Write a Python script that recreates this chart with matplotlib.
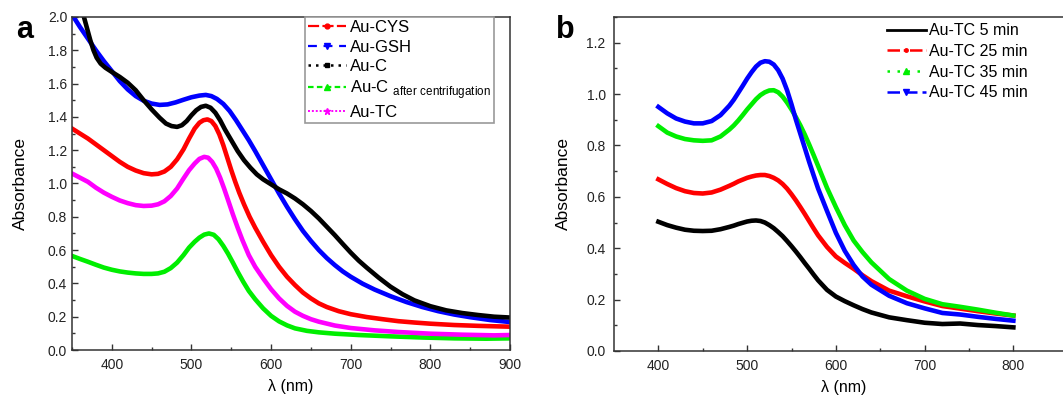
import matplotlib
matplotlib.use("Agg")
import matplotlib.pyplot as plt
from matplotlib.lines import Line2D
from matplotlib.ticker import MultipleLocator, FormatStrFormatter

plt.rcParams["font.family"] = ["Liberation Sans", "DejaVu Sans"]
plt.rcParams["mathtext.fontset"] = "custom"
plt.rcParams["mathtext.rm"] = "Liberation Sans"

# ---- panel a data (wavelength in nm, absorbance) ----
cys_wl = [350, 360, 370, 380, 390, 400, 410, 420, 430, 440, 450, 458, 466, 474, 482, 490,
          497, 504, 510, 515, 520, 525, 530, 535, 540, 545, 550, 555, 560, 566, 573, 580,
          590, 600, 610, 620, 630, 640, 650, 660, 670, 685, 700, 720, 740, 760, 780, 800,
          830, 860, 900]
cys_abs = [1.33, 1.30, 1.27, 1.235, 1.20, 1.165, 1.13, 1.10, 1.078, 1.062, 1.055, 1.058,
           1.072, 1.10, 1.145, 1.205, 1.27, 1.33, 1.365, 1.38, 1.385, 1.375, 1.345, 1.295,
           1.23, 1.155, 1.08, 1.01, 0.945, 0.875, 0.80, 0.735, 0.65, 0.57, 0.50, 0.44, 0.39,
           0.345, 0.31, 0.28, 0.258, 0.233, 0.215, 0.198, 0.185, 0.173, 0.165, 0.158, 0.15,
           0.145, 0.14]

gsh_wl = [352, 360, 370, 380, 390, 400, 410, 420, 430, 440, 450, 460, 470, 480, 490, 500,
          510, 518, 525, 532, 540, 548, 556, 564, 572, 580, 590, 600, 610, 620, 630, 640,
          650, 660, 670, 680, 690, 700, 715, 730, 750, 770, 790, 810, 830, 850, 875, 900]
gsh_abs = [2.0, 1.94, 1.87, 1.80, 1.735, 1.675, 1.615, 1.565, 1.525, 1.497, 1.48, 1.472,
           1.475, 1.487, 1.503, 1.518, 1.528, 1.532, 1.525, 1.508, 1.478, 1.435, 1.38, 1.32,
           1.26, 1.195, 1.11, 1.025, 0.94, 0.86, 0.785, 0.715, 0.655, 0.60, 0.552, 0.51,
           0.472, 0.44, 0.398, 0.363, 0.323, 0.288, 0.258, 0.233, 0.213, 0.197, 0.18, 0.168]

c_wl = [365, 369, 373, 377, 381, 386, 392, 400, 410, 420, 430, 440, 450, 460, 468, 475,
        482, 488, 494, 500, 506, 512, 518, 524, 530, 536, 542, 550, 558, 566, 574, 582,
        590, 600, 610, 620, 630, 640, 650, 660, 670, 680, 690, 700, 710, 720, 735, 750,
        765, 780, 800, 820, 840, 860, 880, 900]
c_abs = [2.0, 1.93, 1.86, 1.80, 1.755, 1.72, 1.695, 1.67, 1.64, 1.605, 1.56, 1.50, 1.445,
         1.395, 1.36, 1.345, 1.34, 1.35, 1.375, 1.41, 1.44, 1.46, 1.467, 1.455, 1.425, 1.38,
         1.325, 1.26, 1.195, 1.14, 1.095, 1.055, 1.025, 0.995, 0.965, 0.94, 0.91, 0.875,
         0.835, 0.79, 0.74, 0.69, 0.637, 0.585, 0.537, 0.495, 0.435, 0.38, 0.335, 0.298,
         0.263, 0.238, 0.222, 0.21, 0.20, 0.195]

cc_wl = [350, 360, 370, 380, 390, 400, 410, 420, 430, 440, 450, 458, 466, 474, 482, 490,
         497, 504, 510, 516, 522, 528, 534, 540, 546, 552, 558, 565, 572, 580, 590, 600,
         610, 620, 630, 645, 660, 680, 710, 750, 790, 830, 870, 900]
cc_abs = [0.565, 0.547, 0.53, 0.512, 0.495, 0.482, 0.472, 0.465, 0.46, 0.457, 0.457, 0.46,
          0.47, 0.492, 0.525, 0.57, 0.615, 0.65, 0.675, 0.693, 0.70, 0.692, 0.665, 0.625,
          0.578, 0.525, 0.47, 0.41, 0.355, 0.305, 0.25, 0.205, 0.172, 0.148, 0.13, 0.115,
          0.106, 0.098, 0.09, 0.082, 0.075, 0.07, 0.068, 0.07]

tc_wl = [350, 360, 370, 380, 390, 400, 410, 420, 430, 440, 450, 458, 466, 474, 482, 490,
         497, 504, 510, 516, 521, 526, 531, 536, 541, 546, 552, 558, 564, 572, 580, 590,
         600, 610, 620, 630, 640, 650, 660, 680, 700, 730, 760, 800, 840, 880, 900]
tc_abs = [1.06, 1.035, 1.01, 0.975, 0.945, 0.92, 0.898, 0.882, 0.87, 0.865, 0.867, 0.875,
          0.893, 0.925, 0.97, 1.03, 1.08, 1.12, 1.148, 1.16, 1.155, 1.13, 1.09, 1.035, 0.97,
          0.90, 0.815, 0.735, 0.66, 0.57, 0.50, 0.43, 0.365, 0.31, 0.265, 0.23, 0.205,
          0.185, 0.17, 0.147, 0.132, 0.118, 0.108, 0.098, 0.092, 0.088, 0.09]

# ---- panel b data ----
b_wl = [400, 410, 420, 430, 440, 450, 460, 470, 480, 485, 490, 495, 500, 505, 510, 515,
        520, 525, 530, 535, 540, 545, 550, 555, 560, 565, 570, 575, 580, 590, 600, 610,
        620, 630, 640, 660, 680, 700, 720, 740, 760, 780, 800]
tc5 = [0.503, 0.49, 0.48, 0.472, 0.468, 0.467, 0.468, 0.474, 0.483, 0.488, 0.494, 0.499,
       0.504, 0.507, 0.508, 0.506, 0.50, 0.49, 0.478, 0.463, 0.447, 0.428, 0.408, 0.387,
       0.365, 0.342, 0.32, 0.297, 0.275, 0.238, 0.212, 0.194, 0.178, 0.163, 0.150, 0.131,
       0.120, 0.110, 0.105, 0.107, 0.101, 0.097, 0.092]
tc25 = [0.668, 0.65, 0.634, 0.622, 0.615, 0.613, 0.617, 0.628, 0.643, 0.651, 0.66, 0.667,
        0.674, 0.679, 0.683, 0.685, 0.685, 0.681, 0.674, 0.664, 0.65, 0.632, 0.61, 0.586,
        0.56, 0.533, 0.505, 0.477, 0.45, 0.405, 0.368, 0.343, 0.32, 0.295, 0.272, 0.235,
        0.213, 0.193, 0.175, 0.165, 0.155, 0.146, 0.138]
tc35 = [0.875, 0.85, 0.835, 0.825, 0.82, 0.818, 0.82, 0.835, 0.862, 0.878, 0.897, 0.918,
        0.94, 0.96, 0.98, 0.996, 1.007, 1.014, 1.015, 1.007, 0.99, 0.967, 0.94, 0.91,
        0.878, 0.842, 0.803, 0.762, 0.72, 0.635, 0.56, 0.49, 0.43, 0.385, 0.345, 0.28,
        0.235, 0.203, 0.182, 0.172, 0.161, 0.149, 0.138]
tc45 = [0.95, 0.925, 0.905, 0.893, 0.886, 0.886, 0.895, 0.918, 0.955, 0.978, 1.005, 1.032,
        1.06, 1.085, 1.107, 1.122, 1.128, 1.126, 1.115, 1.093, 1.06, 1.015, 0.96, 0.90,
        0.845, 0.79, 0.735, 0.683, 0.632, 0.545, 0.46, 0.39, 0.335, 0.29, 0.258, 0.215,
        0.186, 0.166, 0.148, 0.142, 0.133, 0.125, 0.118]

RED, BLUE, GREEN, MAG = "#ff0000", "#0000ff", "#00ee00", "#ff00ff"
LW = 3.3

fig = plt.figure(figsize=(10.63, 3.98), dpi=100)
ax_a = fig.add_axes([72 / 1063, 1 - 350 / 398, 438 / 1063, 333 / 398])
ax_b = fig.add_axes([614 / 1063, 1 - 351 / 398, 460 / 1063, 334 / 398])

ax_a.plot(cys_wl, cys_abs, color=RED, lw=LW)
ax_a.plot(gsh_wl, gsh_abs, color=BLUE, lw=LW)
ax_a.plot(c_wl, c_abs, color="black", lw=LW)
ax_a.plot(cc_wl, cc_abs, color=GREEN, lw=LW)
ax_a.plot(tc_wl, tc_abs, color=MAG, lw=LW)

ax_b.plot(b_wl, tc5, color="black", lw=LW)
ax_b.plot(b_wl, tc25, color=RED, lw=LW)
ax_b.plot(b_wl, tc35, color=GREEN, lw=LW)
ax_b.plot(b_wl, tc45, color=BLUE, lw=LW)

ax_a.set_xlim(350, 900)
ax_a.set_ylim(0, 2.0)
ax_a.xaxis.set_major_locator(MultipleLocator(100))
ax_a.xaxis.set_minor_locator(MultipleLocator(50))
ax_b.set_xlim(350, 350 + 460 / 0.8875)
ax_b.set_ylim(0, 1.3)
ax_b.set_xticks([400, 500, 600, 700, 800])
ax_b.set_xticks([450, 550, 650, 750], minor=True)

for ax in (ax_a, ax_b):
    ax.yaxis.set_major_locator(MultipleLocator(0.2))
    ax.yaxis.set_minor_locator(MultipleLocator(0.1))
    ax.yaxis.set_major_formatter(FormatStrFormatter("%.1f"))
    ax.tick_params(which="both", direction="in", labelsize=10, labelcolor="#222222",
                   color="#333333")
    ax.tick_params(which="major", length=4, width=1)
    ax.tick_params(which="minor", length=2.5, width=1)
    ax.tick_params(axis="x", pad=6)
    for sp in ax.spines.values():
        sp.set_color("#333333")
        sp.set_linewidth(1.1)
    ax.set_xlabel("λ (nm)", fontsize=11.5, labelpad=5)

ax_a.set_ylabel("Absorbance", fontsize=12.5, labelpad=14)
ax_b.tick_params(axis="y", pad=6)
ax_b.set_ylabel("Absorbance", fontsize=12.5, labelpad=11)

# legends
leg_a = [
    Line2D([], [], color=RED, ls=(0, (5, 1.5)), marker="o", ms=3.5, lw=1.6),
    Line2D([], [], color=BLUE, ls=(0, (4, 3)), marker="v", ms=4, lw=1.6),
    Line2D([], [], color="black", ls=(0, (1, 2)), marker="s", ms=3, lw=1.8),
    Line2D([], [], color=GREEN, ls=(0, (2.5, 1.5)), marker="^", ms=4, lw=1.6),
    Line2D([], [], color=MAG, ls=(0, (1, 1)), marker="*", ms=4.5, lw=1.4),
]
names_a = ["Au-CYS", "Au-GSH", "Au-C", r"Au-C $_\mathregular{after\ centrifugation}$", "Au-TC"]
la = ax_a.legend(leg_a, names_a, loc="upper right", bbox_to_anchor=(0.963, 1.0),
                 borderaxespad=0, fontsize=12, handlelength=2.3, handletextpad=0.2,
                 labelspacing=0.25, borderpad=0.2, fancybox=False, framealpha=1)
la.get_frame().set_edgecolor("#999999")
la.get_frame().set_linewidth(1.2)

leg_b = [
    Line2D([], [], color="black", ls="-", lw=2),
    Line2D([], [], color=RED, ls=(0, (5, 1.5, 1, 1.5)), marker="o", ms=2.5, lw=1.8),
    Line2D([], [], color=GREEN, ls=(0, (1, 3)), marker="^", ms=4, lw=1.8),
    Line2D([], [], color=BLUE, ls=(0, (5, 2)), marker="v", ms=4, lw=1.8),
]
names_b = ["Au-TC 5 min", "Au-TC 25 min", "Au-TC 35 min", "Au-TC 45 min"]
ax_b.legend(leg_b, names_b, loc="upper left", bbox_to_anchor=(0.58, 1.0),
            borderaxespad=0, fontsize=11.5, handlelength=2.4, handletextpad=0.2,
            labelspacing=0.35, borderpad=0.4, frameon=False)

fig.text(25 / 1063, 1 - 30 / 398, "a", fontsize=22, fontweight="bold", ha="center", va="center")
fig.text(565 / 1063, 1 - 30 / 398, "b", fontsize=22, fontweight="bold", ha="center", va="center")

fig.savefig("out.png", dpi=100)
